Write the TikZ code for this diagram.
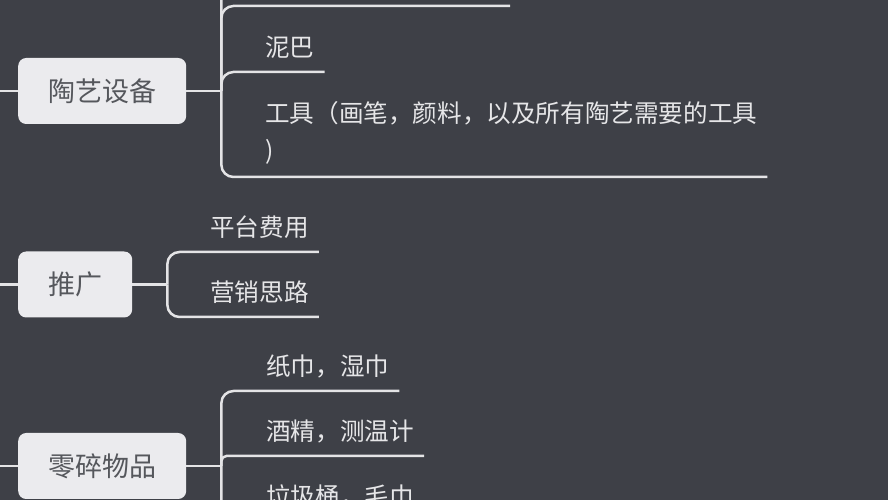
\documentclass[tikz,border=0pt]{standalone}
\usepackage{fontspec}
\newfontfamily\cjk{Noto Sans CJK SC}
\usetikzlibrary{positioning,calc}
\definecolor{bgc}{HTML}{3E4047}
\definecolor{linec}{HTML}{E4E4E6}
\definecolor{boxc}{HTML}{EBEBEE}
\definecolor{boxtext}{HTML}{55575C}
\definecolor{leaftext}{HTML}{E6E6E8}

\begin{document}
\begin{tikzpicture}
    [
      x=1pt, y=1pt,
      topic/.style={rectangle, rounded corners=8pt, fill=boxc, text=boxtext, font=\cjk\fontsize{27}{32}\selectfont, minimum height=66pt, inner xsep=30pt, anchor=west},
      leaf/.style={text=leaftext, font=\cjk\fontsize{24.6}{37}\selectfont, inner sep=0pt, text depth=15pt, anchor=south west, align=left},
      branch/.style={draw=linec, line width=2.5pt, rounded corners=12pt}
    ]
    \useasboundingbox (0,0) rectangle (888,500);
    \fill [bgc] (0,0) rectangle (888,500);
    \clip (0,0) rectangle (888,500);
    % main topics
    \node (tao) [topic] at (18,409) {陶艺设备};
    \node (tui) [topic] at (18,215.5) {推广};
    \node (ling) [topic] at (18,34) {零碎物品};
    \foreach \n in {tao,tui,ling} {
      \coordinate (\n j) at ([xshift=35pt]\n.east);
      \coordinate (\n l) at ([xshift=-30pt]\n.west);
      \draw [branch] (\n l) -- (\n);
      \draw [branch] (\n) -- (\n j);
    }
    % leaves
    \node (niba) [leaf] at (265,428) {泥巴};
    \node (gongju) [leaf, text depth=17pt] at (265,323) {工具（画笔，颜料，以及所有陶艺需要的工具\\)};
    \node (pingtai) [leaf] at (210,248) {平台费用};
    \node (yingxiao) [leaf] at (210,183) {营销思路};
    \node (zhijin) [leaf] at (266,109) {纸巾，湿巾};
    \node (jiujing) [leaf] at (266,44) {酒精，测温计};
    \node (laji) [leaf] at (266,-21) {垃圾桶，毛巾};
    \coordinate (taotop) at (510,494);
    \coordinate (taotop0) at (480,560);
    \draw [branch] (taoj) |- (taotop0);
    \draw [branch] (taoj) |- (taotop);
    \foreach \p/\c in {taoj/niba,taoj/gongju,tuij/pingtai,tuij/yingxiao,lingj/zhijin,lingj/laji}
      \draw [branch] (\p) |- ([xshift=10pt]\c.south east);
    \draw [branch, rounded corners=5pt] (lingj) |- ([xshift=10pt]jiujing.south east);
\end{tikzpicture}
\end{document}
